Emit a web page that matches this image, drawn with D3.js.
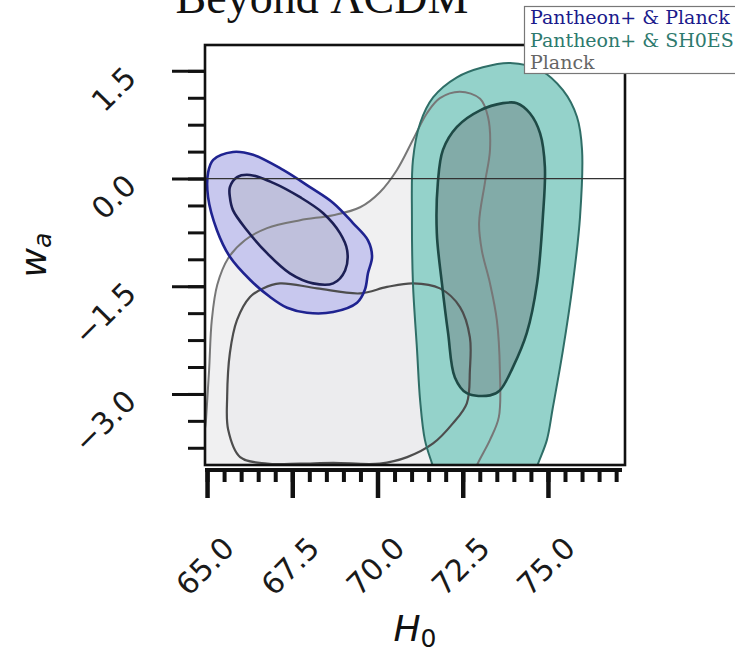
<!DOCTYPE html>
<html>
<head>
<meta charset="utf-8">
<script src="https://cdn.jsdelivr.net/npm/d3@7"></script>
<style>
  html, body { margin: 0; padding: 0; background: #fff; }
  svg { display: block; }
</style>
</head>
<body>
<svg id="chart" width="735" height="652"></svg>
<script>
// Marginalised posteriors in the (H0, wa) plane, 68% and 95% credible regions.
// Each contour is a closed outline of [H0, wa] points.

const xTicks = [65.0, 67.5, 70.0, 72.5, 75.0];
const yTicks = [1.5, 0.0, -1.5, -3.0];

const planckOuter = [
  [64.88, -4.20], [64.97, -3.36], [65.06, -2.67], [65.14, -1.97], [65.30, -1.48],
  [65.62, -1.11], [66.11, -0.86], [66.76, -0.69], [67.73, -0.58], [68.70, -0.51],
  [69.49, -0.40], [70.07, -0.19], [70.57, 0.12], [71.04, 0.54], [71.45, 0.91],
  [71.83, 1.12], [72.42, 1.21], [73.01, 1.11], [73.24, 0.86], [73.30, 0.40],
  [73.15, -0.06], [72.98, -0.62], [73.06, -1.00], [73.30, -1.46], [73.50, -1.97],
  [73.59, -2.67], [73.56, -3.32], [73.30, -3.64], [72.92, -3.99], [72.71, -4.25],
  [70.50, -4.35], [68.90, -4.35], [66.50, -4.35]
];

const planckInner = [
  [66.64, -1.53], [67.14, -1.46], [68.23, -1.53], [69.49, -1.60], [70.28, -1.51],
  [71.04, -1.46], [71.83, -1.53], [72.42, -1.79], [72.71, -2.21], [72.71, -2.67],
  [72.62, -3.13], [72.21, -3.41], [71.63, -3.69], [70.87, -3.88], [70.07, -3.97],
  [68.70, -3.96], [67.73, -3.97], [66.76, -3.97], [65.97, -3.88], [65.62, -3.50],
  [65.59, -3.04], [65.67, -2.43], [65.88, -1.97], [66.26, -1.65]
];

const pantheonPlanckOuter = [
  [65.18, 0.26], [65.76, 0.37], [66.35, 0.33], [67.23, 0.12], [68.02, -0.12],
  [68.70, -0.34], [69.28, -0.62], [69.72, -0.86], [69.84, -1.09], [69.72, -1.32],
  [69.63, -1.55], [69.40, -1.73], [68.70, -1.86], [67.93, -1.87], [67.35, -1.80],
  [66.85, -1.65], [66.26, -1.41], [65.67, -1.09], [65.29, -0.72], [65.03, -0.26],
  [65.03, 0.08]
];

const pantheonPlanckInner = [
  [65.67, -0.12], [65.88, 0.02], [66.26, 0.05], [66.94, -0.06], [67.73, -0.26],
  [68.40, -0.48], [68.90, -0.76], [69.11, -1.00], [69.05, -1.28], [68.70, -1.46],
  [68.11, -1.46], [67.43, -1.32], [66.76, -1.04], [66.17, -0.72], [65.76, -0.44],
  [65.67, -0.26]
];

const pantheonShoesOuter = [
  [73.89, 1.61], [73.09, 1.55], [72.33, 1.41], [71.63, 1.13], [71.25, 0.77],
  [71.04, 0.26], [71.01, -0.54], [71.04, -1.46], [71.16, -2.39], [71.25, -3.09],
  [71.39, -3.64], [71.60, -3.97], [71.85, -4.30], [74.45, -4.30], [74.71, -3.97],
  [74.97, -3.64], [75.14, -3.20], [75.44, -2.39], [75.73, -1.46], [75.94, -0.54],
  [76.00, 0.40], [75.85, 0.86], [75.44, 1.23], [74.77, 1.51]
];

const pantheonShoesInner = [
  [73.68, 1.05], [73.01, 0.95], [72.33, 0.72], [71.92, 0.40], [71.77, -0.06],
  [71.74, -0.76], [71.89, -1.46], [72.07, -2.15], [72.27, -2.77], [72.62, -2.99],
  [73.30, -3.02], [73.59, -2.95], [73.97, -2.63], [74.38, -2.15], [74.68, -1.46],
  [74.85, -0.54], [74.91, 0.16], [74.77, 0.63], [74.47, 0.91], [74.09, 1.05]
];

const legendLabels = ["Pantheon+ & Planck", "Pantheon+ & SH0ES", "Planck"];
const legendColors = ["#1a1a8c", "#2e7a6e", "#666666"];

const svg = d3.select("#chart");
const plot = { left: 205, right: 625, top: 45, bottom: 465 };

const x = d3.scaleLinear().domain([64.94, 77.26]).range([plot.left, plot.right]);
const y = d3.scaleLinear().domain([-3.99, 1.86]).range([plot.bottom, plot.top]);

svg.append("defs").append("clipPath").attr("id", "plot-clip")
  .append("rect")
  .attr("x", plot.left).attr("y", plot.top)
  .attr("width", plot.right - plot.left).attr("height", plot.bottom - plot.top);

const outline = d3.line()
  .x(d => x(d[0])).y(d => y(d[1]))
  .curve(d3.curveCatmullRomClosed.alpha(0.5));

const g = svg.append("g").attr("clip-path", "url(#plot-clip)");

const layers = [
  { data: planckOuter, fill: "#f0f0f1", stroke: "#777777", sw: 2 },
  { data: planckInner, fill: "#ececee", stroke: "#4d4d4d", sw: 2.2 },
  { data: pantheonPlanckOuter, fill: "#c8c8ee", stroke: "#1f2390", sw: 2.6 },
  { data: pantheonPlanckInner, fill: "#bfc0dc", stroke: "#1c1f55", sw: 2.6 },
  { data: pantheonShoesOuter, fill: "#94d2ca", stroke: "#2f6e67", sw: 2 },
  { data: pantheonShoesInner, fill: "#82aba8", stroke: "#1e4a46", sw: 2.6 }
];

// filled regions first, outlines on top
g.selectAll("path.fill").data(layers).join("path")
  .attr("class", "fill")
  .attr("d", d => outline(d.data))
  .attr("fill", d => d.fill)
  .attr("stroke", "none");

g.selectAll("path.edge").data(layers).join("path")
  .attr("class", "edge")
  .attr("d", d => outline(d.data))
  .attr("fill", "none")
  .attr("stroke", d => d.stroke)
  .attr("stroke-width", d => d.sw)
  .attr("stroke-linejoin", "round");

// wa = 0 reference line
g.append("line")
  .attr("x1", plot.left).attr("x2", plot.right)
  .attr("y1", y(0)).attr("y2", y(0))
  .attr("stroke", "#333").attr("stroke-width", 1.3);

// frame
svg.append("rect")
  .attr("x", plot.left).attr("y", plot.top)
  .attr("width", plot.right - plot.left).attr("height", plot.bottom - plot.top)
  .attr("fill", "none").attr("stroke", "#111").attr("stroke-width", 2.6);

// y axis: major ticks every 1.5, minor every 0.375
const yAxis = d3.axisLeft(y).tickValues(yTicks).tickSize(33).tickFormat("");
const yMinor = d3.axisLeft(y).tickValues(d3.range(-3.75, 1.6, 0.375)).tickSize(17).tickFormat("");
[yMinor, yAxis].forEach(ax => {
  const a = svg.append("g").attr("transform", `translate(${plot.left},0)`).call(ax);
  a.select(".domain").remove();
  a.selectAll(".tick line").attr("stroke", "#111").attr("stroke-width", 3);
});

svg.append("g").selectAll("text").data(yTicks).join("text")
  .attr("transform", d => `translate(138,${y(d) + 9}) rotate(-45)`)
  .attr("text-anchor", "end")
  .attr("font-family", "DejaVu Sans, sans-serif")
  .attr("font-size", 30)
  .attr("fill", "#1a1a1a")
  .text(d => d3.format(".1f")(d).replace("-", "\u2212"));

// x axis: offset spine below the frame, major every 2.5, minor every 0.5
const xAxisY = 469;
const xAxis = d3.axisBottom(x).tickValues(xTicks).tickSize(29).tickFormat("");
const xMinor = d3.axisBottom(x).tickValues(d3.range(65, 77.01, 0.5)).tickSize(13).tickFormat("");
[xMinor, xAxis].forEach((ax, i) => {
  const a = svg.append("g").attr("transform", `translate(0,${xAxisY})`).call(ax);
  a.select(".domain").remove();
  a.selectAll(".tick line").attr("stroke", "#111").attr("stroke-width", i === 0 ? 4 : 4.5);
});
svg.append("line")
  .attr("x1", plot.left).attr("x2", 622)
  .attr("y1", xAxisY + 1).attr("y2", xAxisY + 1)
  .attr("stroke", "#111").attr("stroke-width", 4);

svg.append("g").selectAll("text").data(xTicks).join("text")
  .attr("transform", d => `translate(${x(d) + 29},550) rotate(-45)`)
  .attr("text-anchor", "end")
  .attr("font-family", "DejaVu Sans, sans-serif")
  .attr("font-size", 30)
  .attr("fill", "#1a1a1a")
  .text(d => d3.format(".1f")(d));

// axis titles
const xt = svg.append("text")
  .attr("x", 415).attr("y", 641)
  .attr("text-anchor", "middle")
  .attr("font-family", "DejaVu Sans, sans-serif")
  .attr("font-size", 36)
  .attr("fill", "#111");
xt.append("tspan").attr("font-style", "italic").text("H");
xt.append("tspan").attr("font-size", 25).attr("dy", 6).text("0");

const yt = svg.append("text")
  .attr("transform", "translate(46,255) rotate(-90)")
  .attr("text-anchor", "middle")
  .attr("font-family", "DejaVu Sans, sans-serif")
  .attr("font-size", 36)
  .attr("fill", "#111");
yt.append("tspan").attr("font-style", "italic").text("w");
yt.append("tspan").attr("font-style", "italic").attr("font-size", 25).attr("dy", 5).text("a");

// title
svg.append("text")
  .attr("x", 322).attr("y", 13)
  .attr("text-anchor", "middle")
  .attr("font-family", "Liberation Serif, serif")
  .attr("font-size", 46)
  .attr("fill", "#111")
  .text("Beyond \u039BCDM");

// legend
const lg = svg.append("g");
lg.append("rect")
  .attr("x", 524.5).attr("y", 6.5)
  .attr("width", 240).attr("height", 67)
  .attr("fill", "#fff").attr("stroke", "#777").attr("stroke-width", 1.2);
lg.selectAll("text").data(legendLabels).join("text")
  .attr("x", 530)
  .attr("y", (d, i) => 24 + i * 22.5)
  .attr("font-family", "DejaVu Serif, serif")
  .attr("font-size", 19)
  .attr("fill", (d, i) => legendColors[i])
  .text(d => d);
</script>
</body>
</html>
